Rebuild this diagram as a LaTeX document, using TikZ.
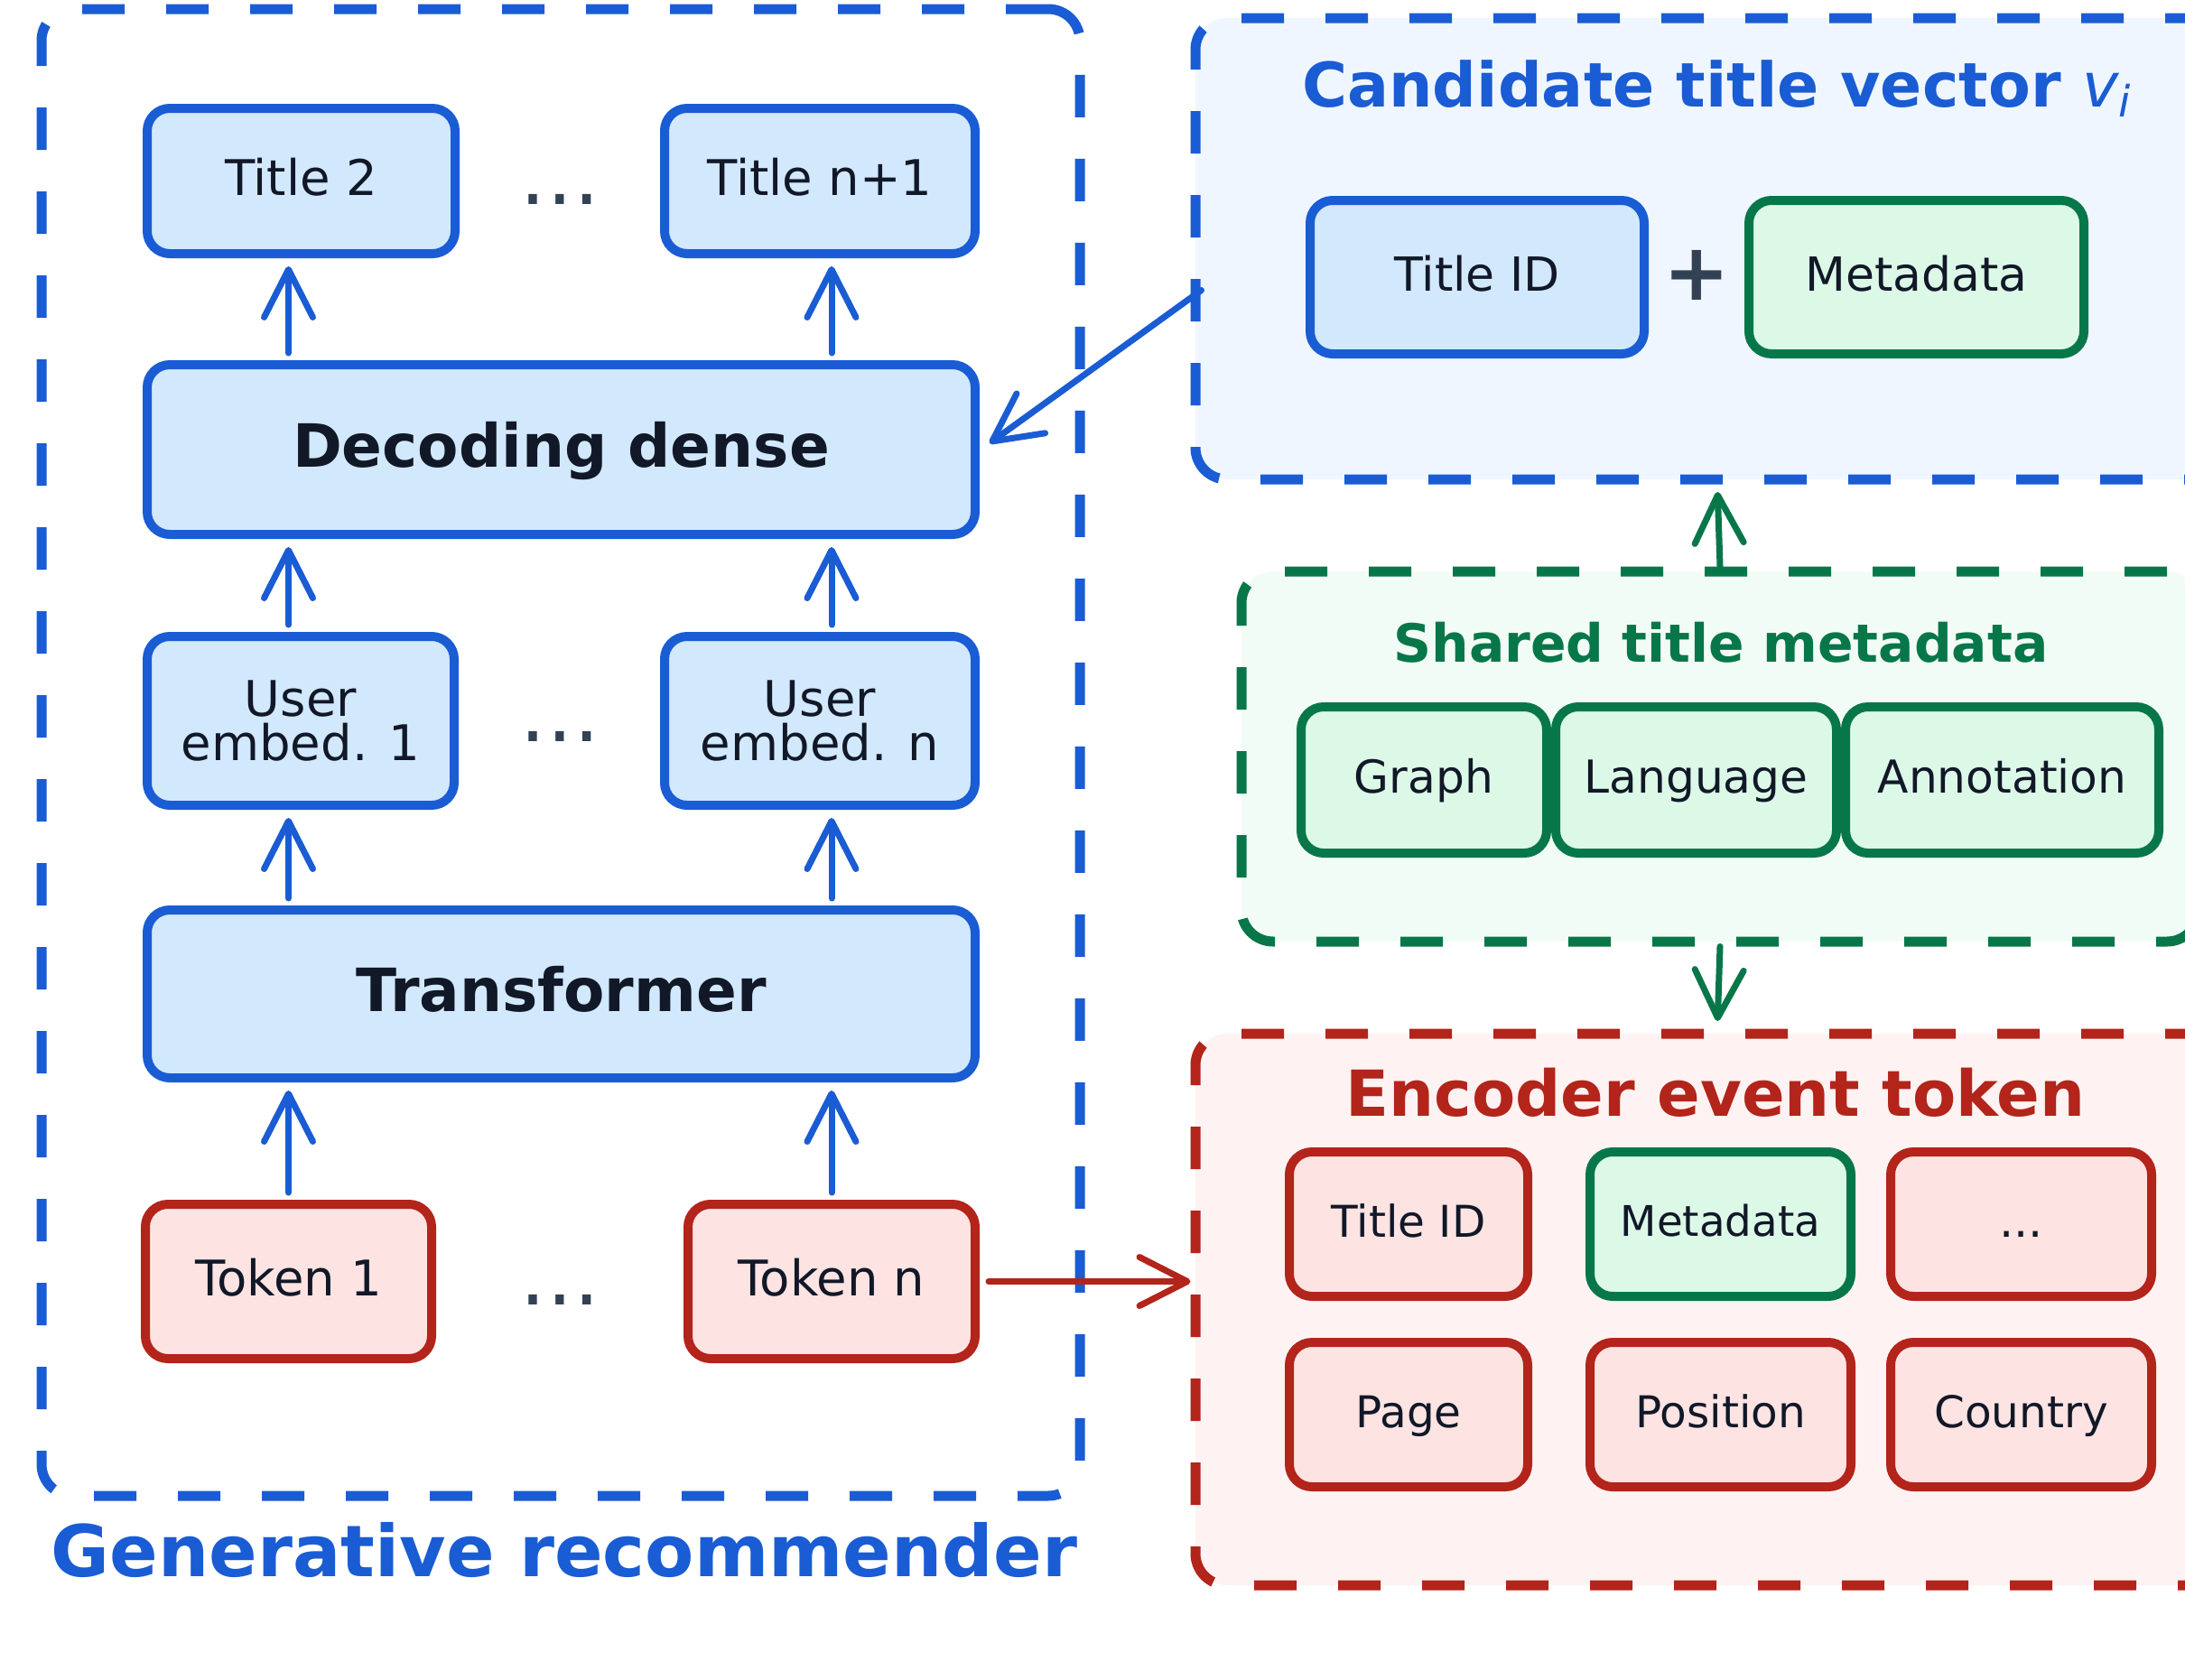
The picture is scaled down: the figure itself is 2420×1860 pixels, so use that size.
\documentclass[tikz,border=0pt]{standalone}
\usepackage{fontspec}
\setmainfont{DejaVu Sans}
\usetikzlibrary{positioning,arrows.meta}

\definecolor{cblue}{HTML}{1A5CD4}
\definecolor{cbluefill}{HTML}{D2E8FD}
\definecolor{cbluebg}{HTML}{EFF6FF}
\definecolor{cgreen}{HTML}{077749}
\definecolor{cgreenfill}{HTML}{DCF9E8}
\definecolor{cgreenbg}{HTML}{F2FCF6}
\definecolor{cred}{HTML}{B3241A}
\definecolor{credfill}{HTML}{FEE3E3}
\definecolor{credbg}{HTML}{FEF2F2}
\definecolor{ink}{HTML}{111827}
\definecolor{slate}{HTML}{334155}

\begin{document}
\begin{tikzpicture}[
    x=0.1mm, y=-0.1mm,
    fs/.style={font=\fontsize{#1}{14.2}\selectfont, text height=0.8*#1pt, text depth=0.22*#1pt},
    box/.style={draw, rounded corners=2.5mm, line width=1mm, text=ink, align=center,
                inner sep=0pt, fs=15.5},
    twoline/.style={text height=, text depth=},
    bluebox/.style={box, draw=cblue, fill=cbluefill},
    greenbox/.style={box, draw=cgreen, fill=cgreenfill},
    redbox/.style={box, draw=cred, fill=credfill},
    wide/.style={fs=18.8, font=\fontsize{18.8}{20}\selectfont\bfseries, minimum width=91.7mm},
    group/.style={draw, rounded corners=3.5mm, line width=1.1mm, dash pattern=on 4.7mm off 4.6mm},
    head/.style={anchor=base, font=\bfseries},
    dotsep/.style={anchor=base, text=slate, font=\fontsize{25.5}{26}\selectfont},
    ar/.style={line width=0.7mm, line cap=round, shorten <=0.8mm, shorten >=0.9mm,
               -{Straight Barb[length=5.3mm,width=5.4mm,round]}},
]
\useasboundingbox (0,0) rectangle (2420,1860);
\fill[white] (0,0) rectangle (2420,1860);
\clip (0,0) rectangle (2420,1860);

% Containers (dashed groups).
\node[group, draw=cblue, minimum width=115mm, minimum height=164.7mm]                   (gen)    at (621,833.5) {};
\node[group, draw=cblue, fill=cbluebg, minimum width=115.6mm, minimum height=51.1mm]    (cand)   at (1902,275.5) {};
\node[group, draw=cgreen, fill=cgreenbg, minimum width=106mm, minimum height=41mm]      (shared) at (1905,838) {};
\node[group, draw=cred, fill=credbg, minimum width=115.6mm, minimum height=61.1mm]      (enc)    at (1902,1450.5) {};

\node[head, text=cblue, font=\fontsize{22.5}{24}\selectfont\bfseries]   (gen_lbl)    at (625,1746) {Generative recommender};
\node[head, text=cblue, font=\fontsize{19.4}{21}\selectfont\bfseries]   (cand_lbl)   at (1902,118) {Candidate title vector {\mdseries\itshape v\textsubscript{i}}};
\node[head, text=cgreen, font=\fontsize{16.6}{18}\selectfont\bfseries]  (shared_lbl) at (1906,733) {Shared title metadata};
\node[head, text=cred, font=\fontsize{20}{22}\selectfont\bfseries]      (enc_lbl)    at (1900,1236) {Encoder event token};

% Generative recommender (bottom to top).
\node[bluebox, minimum width=34.1mm, minimum height=16.1mm]           (t2)  at (333.5,200.5) {Title 2};
\node[bluebox, minimum width=34.4mm, minimum height=16.1mm]           (tn)  at (908,200.5)   {Title n+1};
\node[bluebox, wide, minimum height=18.8mm]                           (dec) at (621.5,498)   {Decoding dense};
\node[bluebox, twoline, minimum width=34mm, minimum height=18.7mm]    (u1)  at (333,798.5)   {User\\embed. 1};
\node[bluebox, twoline, minimum width=34.4mm, minimum height=18.7mm]  (un)  at (908,798.5)   {User\\embed. n};
\node[bluebox, wide, minimum height=18.6mm]                           (tr)  at (621.5,1101)  {Transformer};
\node[redbox, minimum width=31.7mm, minimum height=17.1mm]            (k1)  at (319.5,1419.5) {Token 1};
\node[redbox, minimum width=31.8mm, minimum height=17.1mm]            (kn)  at (921,1419.5)  {Token n};

\node[dotsep] (t_dots) at (620,226)  {…};
\node[dotsep] (u_dots) at (620,821)  {…};
\node[dotsep] (k_dots) at (620,1445) {…};

% Candidate title vector.
\node[bluebox, fs=14.8, minimum width=37mm, minimum height=17mm]     (c_tid)  at (1636,307)   {Title ID};
\node[greenbox, fs=14.8, minimum width=37.1mm, minimum height=17mm]  (c_meta) at (2122.5,307) {Metadata};
\node[text=slate, font=\fontsize{25}{26}\selectfont\bfseries, inner sep=0pt] (c_plus) at (1879,305) {+};

% Shared title metadata.
\node[greenbox, fs=14.3, minimum width=27.2mm, minimum height=16.2mm] (graph) at (1577,864) {Graph};
\node[greenbox, fs=14.3, minimum width=31.1mm, minimum height=16.2mm, right=0pt of graph] (lang)  {Language};
\node[greenbox, fs=14.3, minimum width=34.7mm, minimum height=16.2mm, right=0pt of lang]  (annot) {Annotation};

% Encoder event token.
\node[redbox, fs=13.8, minimum width=26.4mm, minimum height=16mm]   (e_tid)  at (1560,1356)   {Title ID};
\node[greenbox, fs=13.3, minimum width=28.9mm, minimum height=16mm] (e_meta) at (1905.5,1356) {Metadata};
\node[redbox, fs=14.5, minimum width=28.9mm, minimum height=16mm]   (e_more) at (2238.5,1356) {...};
\node[redbox, fs=13.8, minimum width=26.4mm, minimum height=16mm, below=4.1mm of e_tid]  (e_page) {Page};
\node[redbox, fs=13.8, minimum width=28.9mm, minimum height=16mm, below=4.1mm of e_meta] (e_pos)  {Position};
\node[redbox, fs=13.8, minimum width=28.9mm, minimum height=16mm, below=4.1mm of e_more] (e_ctry) {Country};

% Upward flow inside the recommender, aligned on the token columns.
\draw[ar, cblue] (dec.north -| k1) -- (t2.south -| k1);
\draw[ar, cblue] (dec.north -| kn) -- (tn.south -| kn);
\draw[ar, cblue] (u1.north -| k1) -- (dec.south -| k1);
\draw[ar, cblue] (un.north -| kn) -- (dec.south -| kn);
\draw[ar, cblue] (tr.north -| k1) -- (u1.south -| k1);
\draw[ar, cblue] (tr.north -| kn) -- (un.south -| kn);
\draw[ar, cblue] (k1.north) -- (tr.south -| k1);
\draw[ar, cblue] (kn.north) -- (tr.south -| kn);

% Links between the groups.
\draw[ar, cblue, shorten <=0mm, shorten >=0mm] ([xshift=1.2mm,yshift=-4.6mm]cand.west) -- ([xshift=1.1mm,yshift=0.7mm]dec.east);
\draw[ar, cred, shorten <=1mm, shorten >=0mm] (kn.east) -- (kn.east -| enc.west);
\draw[ar, cgreen, shorten <=0mm, shorten >=0.85mm] (shared.north) -- (cand.south);
\draw[ar, cgreen, shorten <=0mm, shorten >=0.85mm] (shared.south) -- (enc.north);
\end{tikzpicture}
\end{document}
